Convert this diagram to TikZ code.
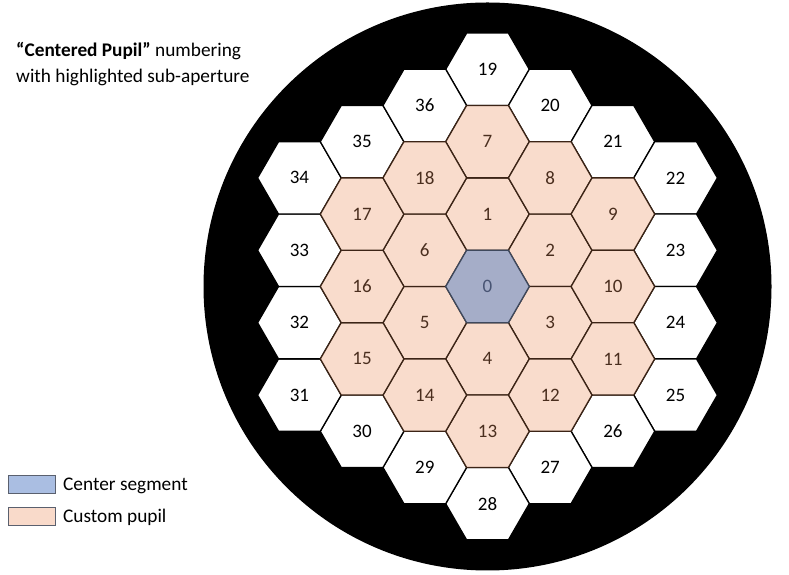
\documentclass[tikz,border=0pt]{standalone}
\usepackage{fontspec}
\setmainfont{Carlito}
\usetikzlibrary{shapes.geometric}
\definecolor{pinkfill}{RGB}{249,220,204}
\definecolor{pinkline}{RGB}{60,36,22}
\definecolor{pinktext}{RGB}{74,46,30}
\definecolor{bluefill}{RGB}{165,173,200}
\definecolor{blueline}{RGB}{62,72,92}
\definecolor{bluetext}{RGB}{72,84,115}
\definecolor{legblue}{RGB}{170,190,226}
\definecolor{legpink}{RGB}{249,218,202}
\definecolor{legline}{RGB}{90,96,110}
\begin{document}
\begin{tikzpicture}[x=1pt,y=1pt,
 hexbase/.style={regular polygon, regular polygon sides=6, minimum size=83.6pt, inner sep=0pt, outer sep=0pt, line width=1.3pt, font=\fontsize{19}{21}\selectfont},
 hexw/.style={hexbase, draw=black, fill=white, text=black},
 hexp/.style={hexbase, draw=pinkline, fill=pinkfill, text=pinktext},
 hexb/.style={hexbase, draw=blueline, fill=bluefill, text=bluetext},
 legbox/.style={draw=legline, line width=1pt, minimum width=47pt, minimum height=18pt, inner sep=0pt},
 txt/.style={font=\fontsize{19.3}{23}\selectfont, inner sep=0pt, anchor=base west}]
\useasboundingbox (0,0) rectangle (789,575);
\node[circle, fill=black, minimum size=568pt, inner sep=0pt] (pupil) at (487.5,288.5) {};
\foreach \n/\c/\r in {19/0/-6,20/1/-5,21/2/-4,22/3/-3,23/3/-1,24/3/1,25/3/3,26/2/4,27/1/5,28/0/6,29/-1/5,30/-2/4,31/-3/3,32/-3/1,33/-3/-1,34/-3/-3,35/-2/-4,36/-1/-5}
  \node[hexw] (h\n) at ({487.5+\c*62.7},{288.5-\r*36.2}) {\n};
\foreach \n/\c/\r in {1/0/-2,2/1/-1,3/1/1,4/0/2,5/-1/1,6/-1/-1,7/0/-4,8/1/-3,9/2/-2,10/2/0,11/2/2,12/1/3,13/0/4,14/-1/3,15/-2/2,16/-2/0,17/-2/-2,18/-1/-3}
  \node[hexp] (h\n) at ({487.5+\c*62.7},{288.5-\r*36.2}) {\n};
\node[hexb] (h0) at (487.5,288.5) {0};
\node[txt] (title1) at (16,518) {\textbf{“Centered Pupil”} numbering};
\node[txt] (title2) at (16,492) {with highlighted sub-aperture};
\node[legbox, fill=legblue] (legb) at (31.5,90) {};
\node[legbox, fill=legpink] (legp) at (31.5,58.5) {};
\node[txt] (legbt) at (63,84) {Center segment};
\node[txt] (legpt) at (63,52.7) {Custom pupil};
\end{tikzpicture}
\end{document}
